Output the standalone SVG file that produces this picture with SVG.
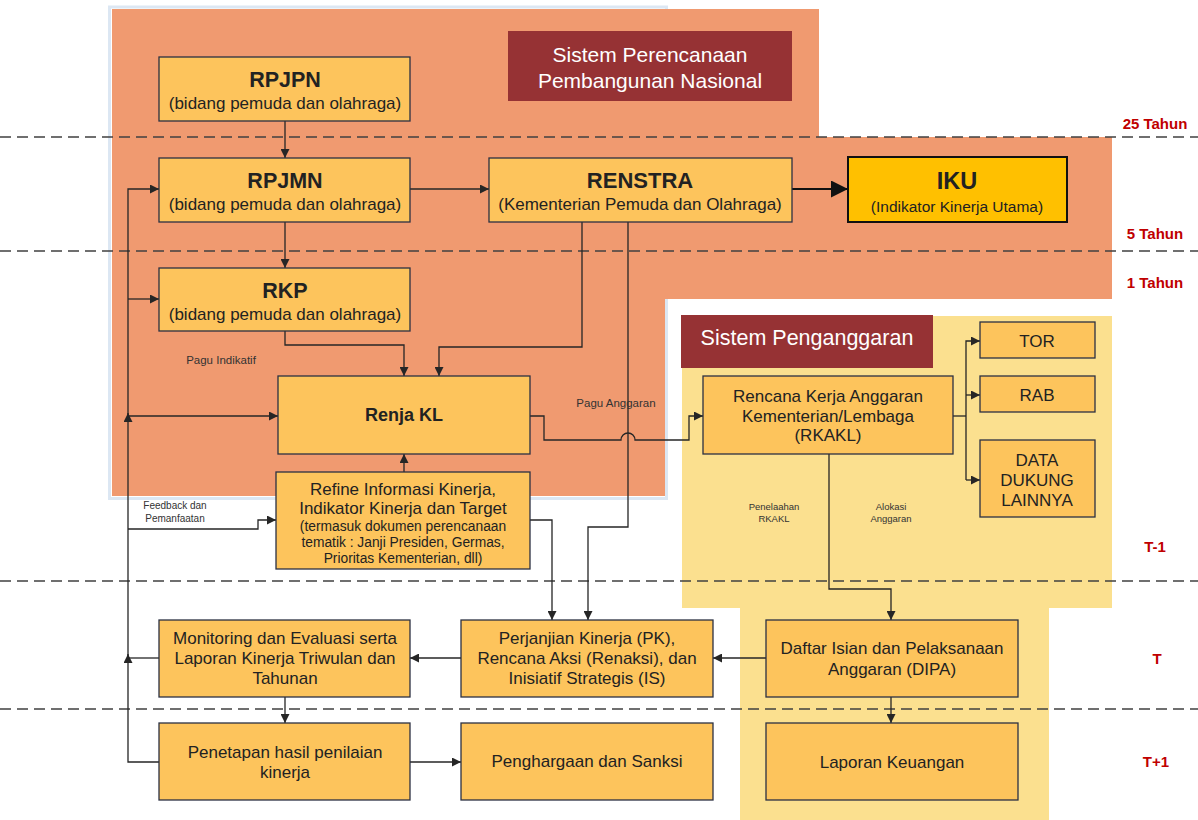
<svg xmlns="http://www.w3.org/2000/svg" width="1198" height="820" viewBox="0 0 1198 820">
  <style>
    .node rect { fill: #FDC45C; stroke: #2b3142; stroke-width: 1.3; }
    .t { font-family: "Liberation Sans", Arial, sans-serif; fill: #222; text-anchor: middle; }
    .b { font-weight: bold; }
    .title rect { fill: #963234; stroke: none; }
    .title text { fill: #ffffff; }
    .red { font-family: "Liberation Sans", Arial, sans-serif; fill: #C00000; font-weight: bold; font-size: 15px; text-anchor: middle; }
    .lbl { font-family: "Liberation Sans", Arial, sans-serif; fill: #333; text-anchor: middle; }
    .dash { stroke: #404040; stroke-width: 1.3; stroke-dasharray: 11 6; fill: none; }
    .c { fill: none; stroke: #262626; stroke-width: 1.3; }
  </style>
  <defs>
    <marker id="arr" viewBox="0 0 10 10" refX="10" refY="5" markerWidth="9" markerHeight="9" markerUnits="userSpaceOnUse" orient="auto">
      <path d="M0,0 L10,5 L0,10 z" fill="#262626"/>
    </marker>
    <marker id="arrBig" viewBox="0 0 10 10" refX="10" refY="5" markerWidth="17" markerHeight="17" markerUnits="userSpaceOnUse" orient="auto">
      <path d="M0,0 L10,5 L0,10 z" fill="#111"/>
    </marker>
  </defs>

  <rect width="1198" height="820" fill="#ffffff"/>

  <!-- planning system background -->
  <rect x="109.5" y="7" width="557" height="491.5" fill="none" stroke="#dce7f3" stroke-width="3"/>
  <path d="M112,9 L819,9 L819,137 L1112,137 L1112,299 L665,299 L665,496 L112,496 Z" fill="#F09A70"/>

  <!-- budgeting system background -->
  <path d="M682,316 L1112,316 L1112,608 L1049,608 L1049,820 L740,820 L740,608 L682,608 Z" fill="#FBE08F"/>

  <!-- period separators -->
  <g id="separators">
    <line class="dash" x1="0" y1="137" x2="1198" y2="137"/>
    <line class="dash" x1="0" y1="251" x2="1198" y2="251"/>
    <line class="dash" x1="0" y1="581" x2="1198" y2="581"/>
    <line class="dash" x1="0" y1="709" x2="1198" y2="709"/>
  </g>

  <!-- period labels -->
  <g id="periods">
    <text class="red" x="1155" y="129">25 Tahun</text>
    <text class="red" x="1155" y="239">5 Tahun</text>
    <text class="red" x="1155" y="288">1 Tahun</text>
    <text class="red" x="1155" y="552">T-1</text>
    <text class="red" x="1157" y="664">T</text>
    <text class="red" x="1156" y="767">T+1</text>
  </g>

  <!-- connectors -->
  <g id="connectors">
    <path class="c" d="M285,121 V158" marker-end="url(#arr)"/>
    <path class="c" d="M285,222 V268" marker-end="url(#arr)"/>
    <path class="c" d="M410,189 H489" marker-end="url(#arr)"/>
    <path d="M792,189 H848" fill="none" stroke="#111" stroke-width="2" marker-end="url(#arrBig)"/>
    <path class="c" d="M285,331 V345 H404 V376" marker-end="url(#arr)"/>
    <path class="c" d="M582,222 V347 H439 V376" marker-end="url(#arr)"/>
    <path class="c" d="M628,222 V527 H588 V620" marker-end="url(#arr)"/>
    <path class="c" d="M530,520 H552 V620" marker-end="url(#arr)"/>
    <path class="c" d="M404,472 V454" marker-end="url(#arr)"/>
    <path class="c" d="M530,416 H544 V440 H621 A7,7 0 0 1 635,440 H689 V416 H703" marker-end="url(#arr)"/>
    <path class="c" d="M953,416 H966"/>
    <path class="c" d="M966,480 V341 H980" marker-end="url(#arr)"/>
    <path class="c" d="M966,395 H980" marker-end="url(#arr)"/>
    <path class="c" d="M966,480 H980" marker-end="url(#arr)"/>
    <path class="c" d="M829,454 V589 H891 V620" marker-end="url(#arr)"/>
    <path class="c" d="M766,658 H713" marker-end="url(#arr)"/>
    <path class="c" d="M461,658 H410" marker-end="url(#arr)"/>
    <path class="c" d="M285,697 V723" marker-end="url(#arr)"/>
    <path class="c" d="M410,762 H461" marker-end="url(#arr)"/>
    <path class="c" d="M891,697 V723" marker-end="url(#arr)"/>
    <!-- feedback loop -->
    <path class="c" d="M159,762 H128 V654" marker-end="url(#arr)"/>
    <path class="c" d="M159,658 H128"/>
    <path class="c" d="M128,658 V413" marker-end="url(#arr)"/>
    <path class="c" d="M128,416 V189 H159" marker-end="url(#arr)"/>
    <path class="c" d="M128,299 H159" marker-end="url(#arr)"/>
    <path class="c" d="M128,416 H278" marker-end="url(#arr)"/>
    <path class="c" d="M128,529 H258 V520 H276" marker-end="url(#arr)"/>
  </g>

  <!-- connector labels -->
  <g id="labels">
    <text class="lbl" x="221" y="364" font-size="11.5">Pagu Indikatif</text>
    <text class="lbl" x="616" y="407" font-size="11.5">Pagu Anggaran</text>
    <text class="lbl" x="175" y="509" font-size="10">Feedback dan</text>
    <text class="lbl" x="175" y="522" font-size="10">Pemanfaatan</text>
    <text class="lbl" x="774" y="510" font-size="9.5">Penelaahan</text>
    <text class="lbl" x="774" y="522" font-size="9.5">RKAKL</text>
    <text class="lbl" x="891" y="510" font-size="9.5">Alokasi</text>
    <text class="lbl" x="891" y="522" font-size="9.5">Anggaran</text>
  </g>

  <!-- section titles -->
  <g id="title-perencanaan" class="title">
    <rect x="508" y="31" width="284" height="70"/>
    <text class="t" x="650" y="62" font-size="21">Sistem Perencanaan</text>
    <text class="t" x="650" y="88" font-size="21">Pembangunan Nasional</text>
  </g>
  <g id="title-penganggaran" class="title">
    <rect x="681" y="315" width="252" height="53"/>
    <text class="t" x="807" y="345" font-size="21.5">Sistem Penganggaran</text>
  </g>

  <!-- planning nodes -->
  <g id="rpjpn" class="node">
    <rect x="159" y="57" width="251" height="64"/>
    <text class="t b" x="285" y="87" font-size="21.5">RPJPN</text>
    <text class="t" x="285" y="109" font-size="17">(bidang pemuda dan olahraga)</text>
  </g>
  <g id="rpjmn" class="node">
    <rect x="159" y="158" width="251" height="64"/>
    <text class="t b" x="285" y="188" font-size="21.5">RPJMN</text>
    <text class="t" x="285" y="210" font-size="17">(bidang pemuda dan olahraga)</text>
  </g>
  <g id="rkp" class="node">
    <rect x="159" y="268" width="251" height="63"/>
    <text class="t b" x="285" y="298" font-size="21.5">RKP</text>
    <text class="t" x="285" y="320" font-size="17">(bidang pemuda dan olahraga)</text>
  </g>
  <g id="renstra" class="node">
    <rect x="489" y="158" width="303" height="64"/>
    <text class="t b" x="640" y="188" font-size="22">RENSTRA</text>
    <text class="t" x="640" y="210" font-size="17">(Kementerian Pemuda dan Olahraga)</text>
  </g>
  <g id="iku" class="node">
    <rect x="848" y="157" width="219" height="65" style="fill:#FFC000;stroke:#111;stroke-width:2"/>
    <text class="t b" x="957" y="189" font-size="23.5">IKU</text>
    <text class="t" x="957" y="212" font-size="15.5">(Indikator Kinerja Utama)</text>
  </g>
  <g id="renja-kl" class="node">
    <rect x="278" y="376" width="252" height="78"/>
    <text class="t b" x="404" y="421" font-size="18">Renja KL</text>
  </g>
  <g id="refine" class="node">
    <rect x="276" y="472" width="254" height="97"/>
    <text class="t" x="403" y="495" font-size="17">Refine Informasi Kinerja,</text>
    <text class="t" x="403" y="514" font-size="17">Indikator Kinerja dan Target</text>
    <text class="t" x="403" y="531" font-size="13.8">(termasuk dokumen perencanaan</text>
    <text class="t" x="403" y="547" font-size="13.8">tematik : Janji Presiden, Germas,</text>
    <text class="t" x="403" y="563" font-size="13.8">Prioritas Kementerian, dll)</text>
  </g>

  <!-- budgeting nodes -->
  <g id="rkakl" class="node">
    <rect x="703" y="376" width="250" height="78"/>
    <text class="t" x="828" y="402" font-size="17">Rencana Kerja Anggaran</text>
    <text class="t" x="828" y="422" font-size="17">Kementerian/Lembaga</text>
    <text class="t" x="828" y="441" font-size="17">(RKAKL)</text>
  </g>
  <g id="tor" class="node">
    <rect x="980" y="322" width="115" height="36"/>
    <text class="t" x="1037" y="347" font-size="17">TOR</text>
  </g>
  <g id="rab" class="node">
    <rect x="980" y="376" width="115" height="36"/>
    <text class="t" x="1037" y="401" font-size="17">RAB</text>
  </g>
  <g id="data-dukung" class="node">
    <rect x="980" y="440" width="115" height="77"/>
    <text class="t" x="1037" y="466" font-size="17">DATA</text>
    <text class="t" x="1037" y="486" font-size="17">DUKUNG</text>
    <text class="t" x="1037" y="506" font-size="17">LAINNYA</text>
  </g>

  <!-- execution and evaluation nodes -->
  <g id="monev" class="node">
    <rect x="159" y="620" width="251" height="77"/>
    <text class="t" x="285" y="644" font-size="17">Monitoring dan Evaluasi serta</text>
    <text class="t" x="285" y="664" font-size="17">Laporan Kinerja Triwulan dan</text>
    <text class="t" x="285" y="684" font-size="17">Tahunan</text>
  </g>
  <g id="perjanjian" class="node">
    <rect x="461" y="620" width="252" height="77"/>
    <text class="t" x="587" y="644" font-size="17">Perjanjian Kinerja (PK),</text>
    <text class="t" x="587" y="664" font-size="17">Rencana Aksi (Renaksi), dan</text>
    <text class="t" x="587" y="684" font-size="17">Inisiatif Strategis (IS)</text>
  </g>
  <g id="dipa" class="node">
    <rect x="766" y="620" width="252" height="77"/>
    <text class="t" x="892" y="654" font-size="17">Daftar Isian dan Pelaksanaan</text>
    <text class="t" x="892" y="675" font-size="17">Anggaran (DIPA)</text>
  </g>
  <g id="penetapan" class="node">
    <rect x="159" y="723" width="251" height="77"/>
    <text class="t" x="285" y="758" font-size="17">Penetapan hasil penilaian</text>
    <text class="t" x="285" y="778" font-size="17">kinerja</text>
  </g>
  <g id="penghargaan" class="node">
    <rect x="461" y="723" width="252" height="77"/>
    <text class="t" x="587" y="767" font-size="17">Penghargaan dan Sanksi</text>
  </g>
  <g id="laporan-keuangan" class="node">
    <rect x="766" y="723" width="252" height="77"/>
    <text class="t" x="892" y="768" font-size="17">Laporan Keuangan</text>
  </g>
</svg>
